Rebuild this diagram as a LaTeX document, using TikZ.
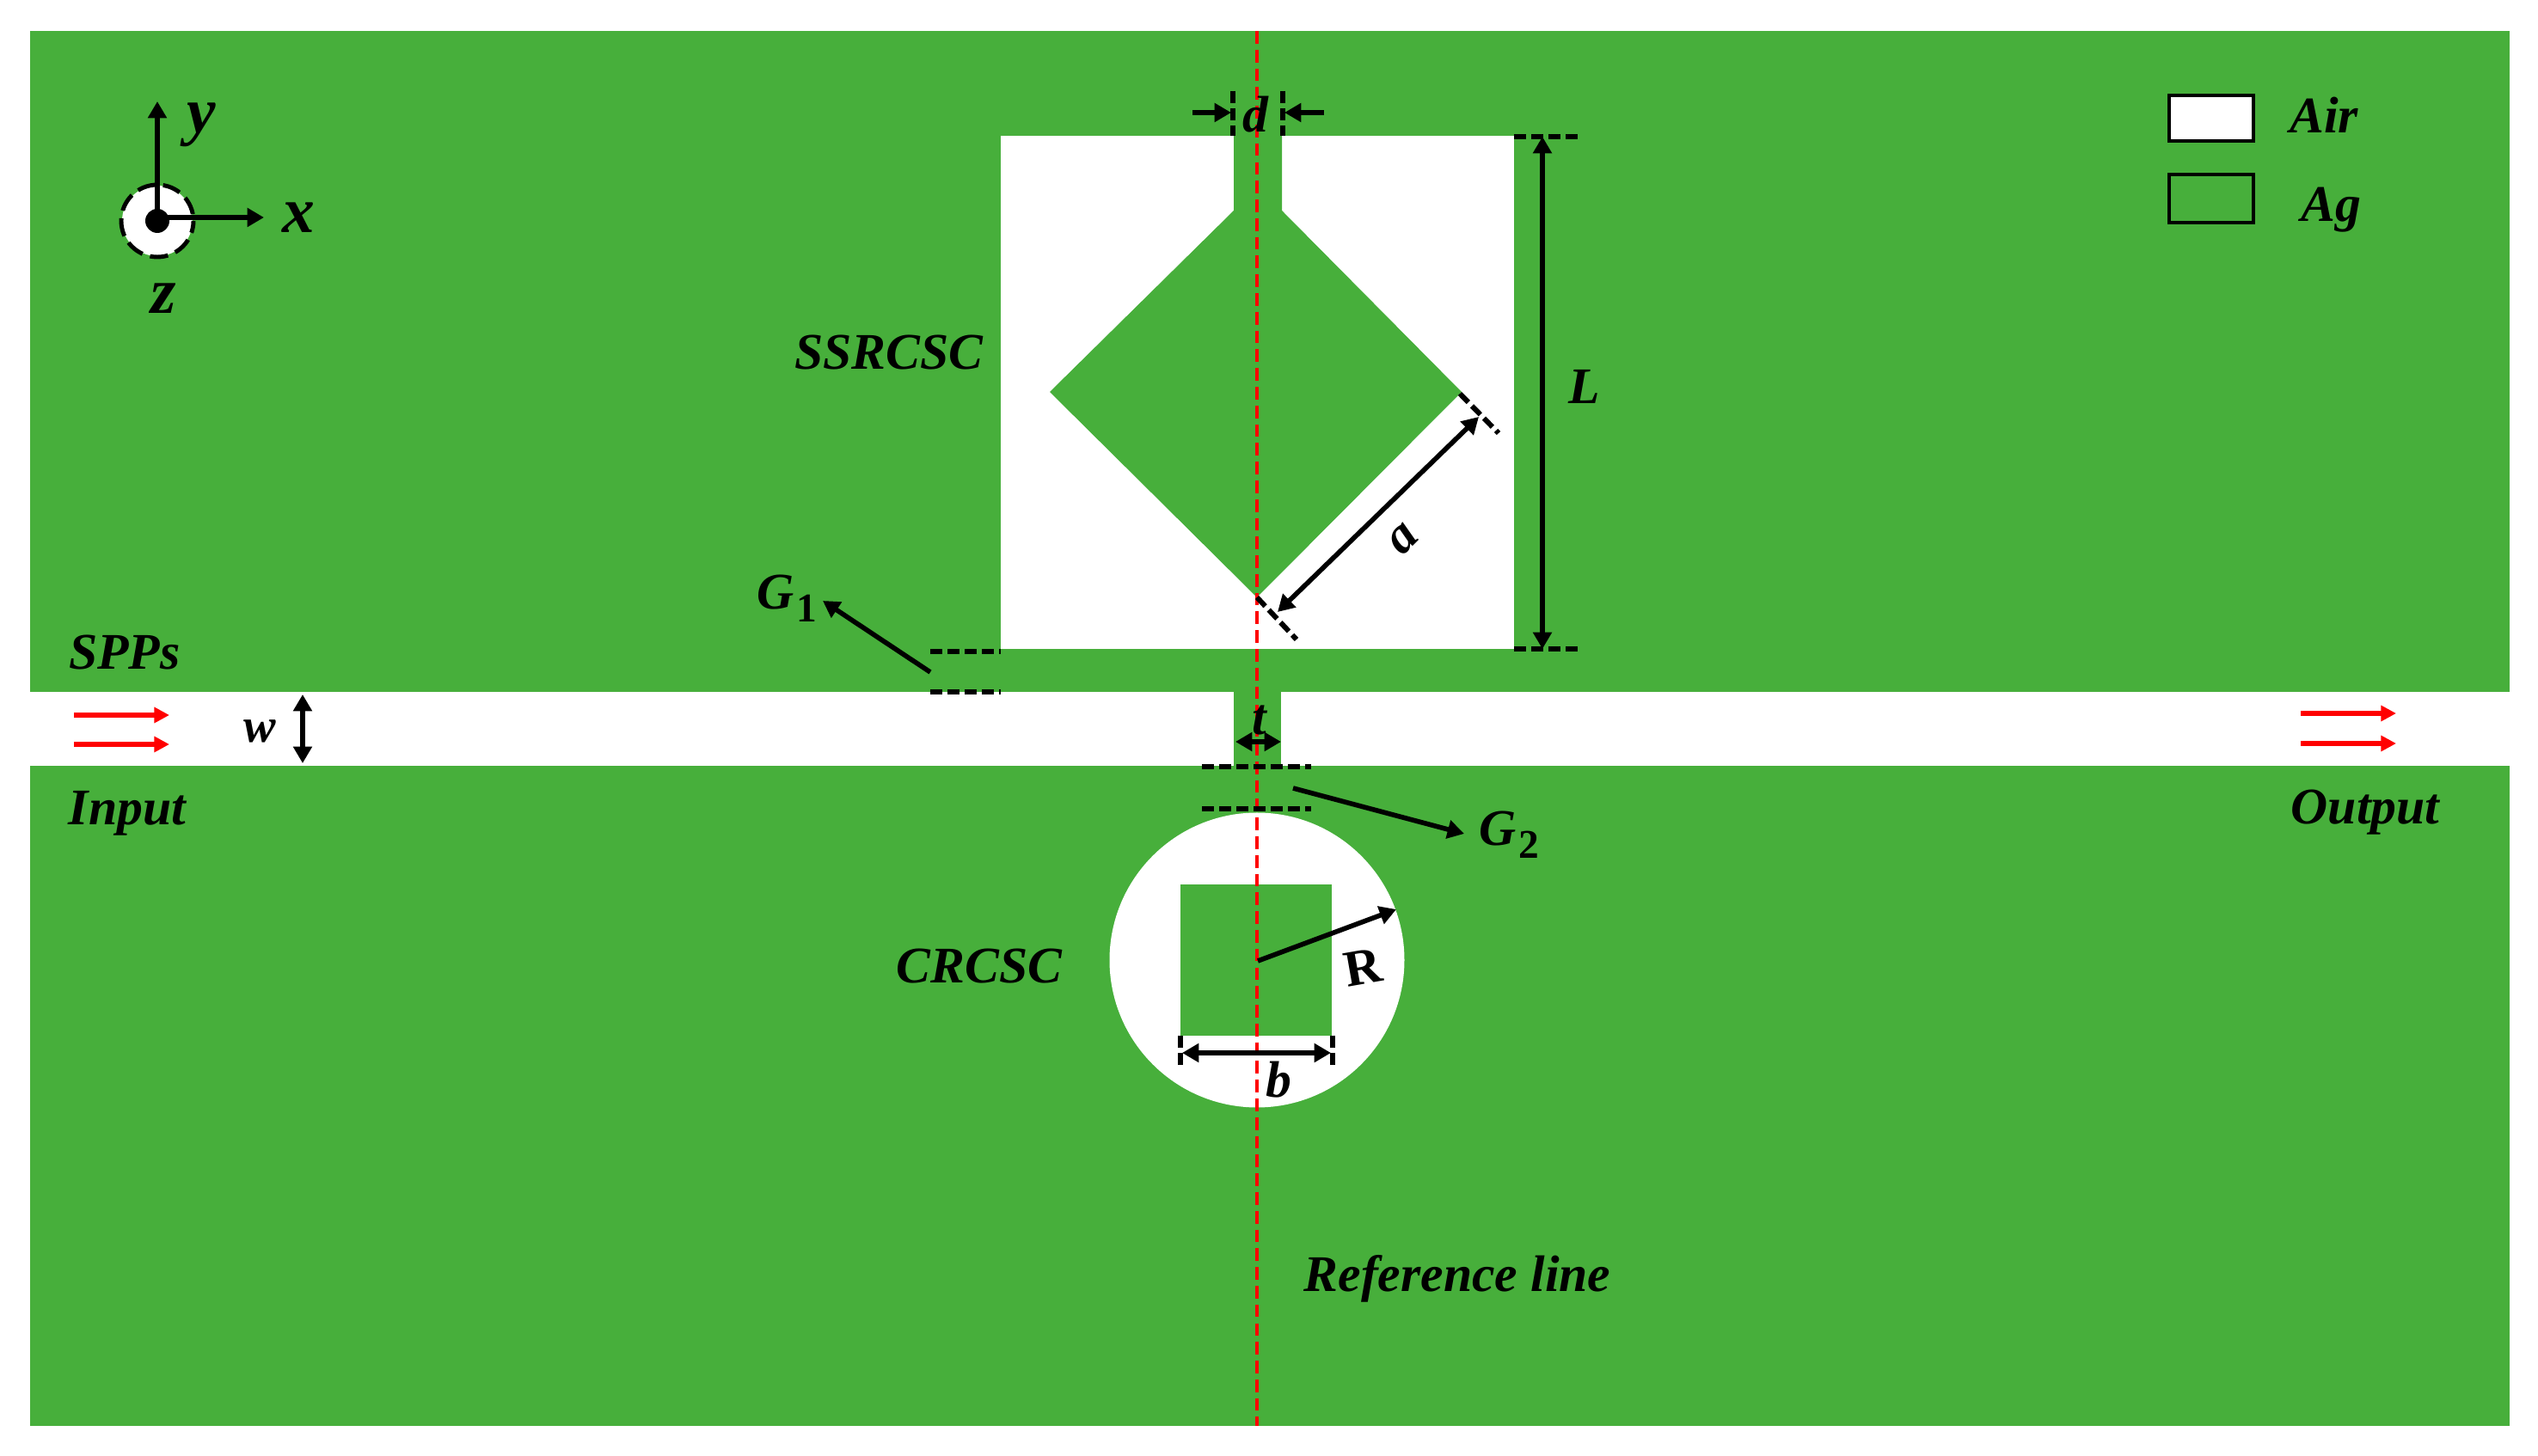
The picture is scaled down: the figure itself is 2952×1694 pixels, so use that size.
\documentclass[tikz,border=0pt]{standalone}
\usepackage{fontspec}
\setmainfont{Liberation Serif}
\usetikzlibrary{arrows.meta}
\definecolor{agreen}{HTML}{47AF3B}
\newcommand{\subtwo}[1]{\kern0.8pt\raisebox{-4.3pt}{\fontsize{13.5}{13.5}\selectfont\bfseries\upshape #1}}
\tikzset{
  x=0.1mm, y=-0.1mm,
  silver/.style={fill=agreen, draw=none},
  air/.style={fill=white, draw=none},
  lab/.style={font=\fontsize{17}{17}\selectfont\bfseries\itshape, inner sep=0pt, text=black},
  axlab/.style={font=\fontsize{21.5}{21.5}\selectfont\bfseries\itshape, inner sep=0pt},
  dimlab/.style={font=\fontsize{17}{17}\selectfont\bfseries\itshape, inner sep=0pt},
  dim/.style={line width=1.6pt, {Triangle[length=5.5pt,width=6pt]}-{Triangle[length=5.5pt,width=6pt]}},
  arr/.style={line width=1.6pt, -{Triangle[length=5.5pt,width=6pt]}},
  redarr/.style={line width=1.6pt, red, -{Triangle[length=5pt,width=5pt]}},
  tick/.style={line width=1.7pt, dash pattern=on 4pt off 1.7pt},
  refline/.style={line width=0.9pt, red, dash pattern=on 4.2pt off 2pt}
}
\begin{document}
\begin{tikzpicture}
\useasboundingbox (0,0) rectangle (2952,1694);
% metal and air regions
\fill[silver] (35,36) rectangle (2919,1659);
\fill[air] (35,805) rectangle (2919,891);
\fill[air] (1164,158) rectangle (1761,755);
\fill[air] (1462,1117) circle[radius=171.5];
\fill[silver] (1435,158) -- (1491,158) -- (1491,245) -- (1700,456) -- (1462,695) -- (1221,456) -- (1435,245) -- cycle;
\fill[silver] (1435,800) rectangle (1490,895);
\fill[silver] (1373,1029) rectangle (1549,1205);
% reference line
\coordinate (reftop) at (1462,36);
\coordinate (refbot) at (1462,1659);
\draw[refline] (reftop) -- (refbot);
% coordinate system
\coordinate (origin) at (183,257);
\coordinate (yend) at (183,118);
\coordinate (xend) at (307,253);
\coordinate (xstart) at (183,253);
\fill[white] (origin) circle[radius=41];
\draw[line width=1.4pt, dash pattern=on 6pt off 2.6pt, dash phase=2pt] (origin) circle[radius=42];
\draw[arr] (origin) -- (yend);
\draw[arr] (xstart) -- (xend);
\fill[black] (origin) circle[radius=14];
\node[axlab] (ylab) at (234,145) {y};
\node[axlab] (xlab) at (347,253) {x};
\node[axlab] (zlab) at (190,347) {z};
% legend
\node[draw=black, line width=0.9pt, fill=white, minimum width=98*0.1mm, minimum height=53*0.1mm, inner sep=0pt] (airbox) at (2572,137.5) {};
\node[draw=black, line width=0.9pt, minimum width=98*0.1mm, minimum height=56*0.1mm, inner sep=0pt] (agbox) at (2572,231) {};
\node[lab] (airlab) at (2703,134) {Air};
\node[lab] (aglab) at (2711,244) {Ag};
% d
\coordinate (d1t) at (1434,106); \coordinate (d1b) at (1434,158);
\coordinate (d2t) at (1492,106); \coordinate (d2b) at (1492,158);
\draw[tick] (d1t) -- (d1b);
\draw[tick] (d2t) -- (d2b);
\coordinate (dla) at (1387,131); \coordinate (dlb) at (1432,131);
\coordinate (dra) at (1540,131); \coordinate (drb) at (1494,131);
\draw[arr] (dla) -- (dlb);
\draw[arr] (dra) -- (drb);
\node[dimlab] (dlab) at (1460,133) {d};
% L
\coordinate (l1a) at (1761,159); \coordinate (l1b) at (1840,159);
\coordinate (l2a) at (1761,755); \coordinate (l2b) at (1840,755);
\draw[tick] (l1a) -- (l1b);
\draw[tick] (l2a) -- (l2b);
\coordinate (lt) at (1794,159); \coordinate (lb) at (1794,755);
\draw[dim] (lt) -- (lb);
\node[dimlab] (Llab) at (1843,450) {L};
% a
\coordinate (a1a) at (1698,458); \coordinate (a1b) at (1743,504);
\coordinate (a2a) at (1462,695); \coordinate (a2b) at (1508,744);
\draw[tick] (a1a) -- (a1b);
\draw[tick] (a2a) -- (a2b);
\coordinate (as) at (1486,712); \coordinate (ae) at (1720,485);
\draw[dim] (as) -- (ae);
\node[dimlab, rotate=45] (alab) at (1632,627) {a};
% G1
\coordinate (g1aa) at (1082,758); \coordinate (g1ab) at (1164,758);
\coordinate (g1ba) at (1082,805); \coordinate (g1bb) at (1164,805);
\draw[tick] (g1aa) -- (g1ab);
\draw[tick] (g1ba) -- (g1bb);
\node[lab, anchor=center] (G1lab) at (915,696) {G\subtwo{1}};
\coordinate (g1s) at (1082,782); \coordinate (g1e) at (957,699);
\draw[arr] (g1s) -- (g1e);
% t
\coordinate (ts) at (1437,863); \coordinate (te) at (1490,863);
\draw[dim] (ts) -- (te);
\node[dimlab] (tlab) at (1465,838) {t};
% G2
\coordinate (g2aa) at (1398,892); \coordinate (g2ab) at (1525,892);
\coordinate (g2ba) at (1398,941); \coordinate (g2bb) at (1525,941);
\draw[tick] (g2aa) -- (g2ab);
\draw[tick] (g2ba) -- (g2bb);
\coordinate (g2s) at (1504,917); \coordinate (g2e) at (1703,970);
\draw[arr] (g2s) -- (g2e);
\node[lab] (G2lab) at (1755,971) {G\subtwo{2}};
% R
\coordinate (rs) at (1463,1118); \coordinate (re) at (1624,1058);
\draw[arr] (rs) -- (re);
\node[font=\fontsize{17}{17}\selectfont\bfseries, inner sep=0pt, rotate=10] (Rlab) at (1585,1125) {R};
% b
\coordinate (b1a) at (1373,1205); \coordinate (b1b) at (1373,1244);
\coordinate (b2a) at (1550,1205); \coordinate (b2b) at (1550,1244);
\draw[tick] (b1a) -- (b1b);
\draw[tick] (b2a) -- (b2b);
\coordinate (bs) at (1375,1225); \coordinate (be) at (1548,1225);
\draw[dim] (bs) -- (be);
\node[dimlab] (blab) at (1487,1256) {b};
% w
\coordinate (ws) at (352,808); \coordinate (we) at (352,888);
\draw[dim] (ws) -- (we);
\node[lab, font=\fontsize{16}{16}\selectfont\bfseries\itshape] (wlab) at (302,851) {w};
% SPP arrows
\coordinate (i1s) at (86,832); \coordinate (i1e) at (197,832);
\coordinate (i2s) at (86,866); \coordinate (i2e) at (197,866);
\coordinate (o1s) at (2676,830); \coordinate (o1e) at (2787,830);
\coordinate (o2s) at (2676,865); \coordinate (o2e) at (2787,865);
\draw[redarr] (i1s) -- (i1e);
\draw[redarr] (i2s) -- (i2e);
\draw[redarr] (o1s) -- (o1e);
\draw[redarr] (o2s) -- (o2e);
% labels
\node[lab] (spps) at (145,759) {SPPs};
\node[lab] (input) at (148,946) {Input};
\node[lab] (output) at (2751,945) {Output};
\node[lab] (ssrcsc) at (1034,410) {SSRCSC};
\node[lab] (crcsc) at (1139,1124) {CRCSC};
\node[lab] (refl) at (1695,1488) {Reference line};
\end{tikzpicture}
\end{document}
